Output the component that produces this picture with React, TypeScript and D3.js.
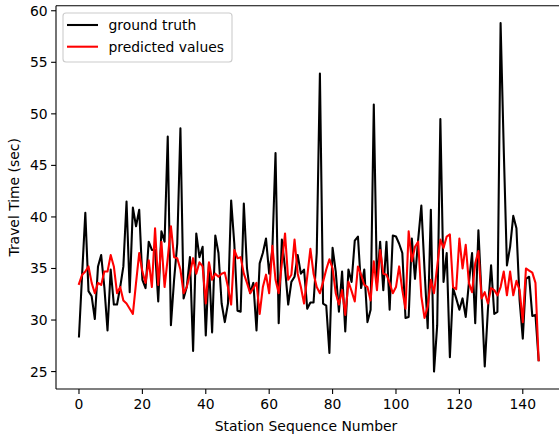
import React, { useEffect, useRef } from "react";
import * as d3 from "d3";

// Observed travel time per station
const groundTruth: number[] = [
  28.4, 34.5, 40.4, 32.8, 32.3, 30.1, 35.2, 36.3, 33.2, 29.0,
  34.9, 31.5, 31.5, 33.2, 35.2, 41.5, 32.7, 40.9, 39.1, 40.7,
  33.9, 33.1, 37.6, 36.8, 36.8, 31.8, 38.6, 37.6, 47.8, 29.5,
  33.9, 37.4, 48.6, 32.1, 33.2, 36.1, 27.0, 38.4, 36.1, 37.1,
  28.5, 35.5, 28.8, 38.2, 36.5, 31.6, 29.8, 31.6, 41.6, 37.4,
  30.9, 30.8, 41.3, 35.0, 32.6, 33.6, 29.0, 35.5, 36.5, 37.9,
  34.5, 36.8, 46.2, 29.7, 37.8, 35.0, 31.5, 33.7, 34.2, 36.3,
  34.5, 34.9, 31.1, 31.7, 31.7, 36.5, 53.9, 31.6, 31.4, 26.8,
  37.0, 34.7, 30.8, 34.7, 28.9, 34.9, 33.7, 37.7, 38.1, 33.1,
  34.9, 29.8, 31.0, 50.9, 33.5, 37.6, 32.9, 37.6, 31.0, 38.2,
  38.1, 37.4, 36.5, 30.2, 30.3, 37.9, 34.0, 37.8, 41.1, 34.9,
  29.2, 40.7, 25.0, 29.5, 49.5, 33.7, 36.5, 26.4, 33.1, 32.1,
  31.0, 32.1, 30.3, 33.6, 36.5, 29.7, 38.7, 32.3, 25.5, 31.0,
  35.3, 30.6, 30.8, 58.8, 46.5, 35.3, 37.1, 40.1, 38.9, 31.9,
  28.2, 34.0, 34.2, 30.4, 30.5, 26.1,
];

// Model output per station
const predicted: number[] = [
  33.5, 34.4, 34.7, 35.2, 33.6, 32.6, 33.6, 33.4, 34.7, 34.7,
  36.3, 35.2, 32.6, 33.2, 31.9, 31.6, 31.1, 30.6, 33.6, 36.5,
  34.7, 33.6, 35.8, 33.2, 38.9, 33.4, 37.6, 33.2, 36.0, 39.1,
  36.1, 36.0, 34.9, 32.6, 33.2, 34.5, 36.0, 34.5, 35.6, 35.2,
  31.6, 35.6, 33.9, 34.5, 34.2, 34.5, 34.6, 33.2, 31.5, 36.8,
  36.0, 36.1, 34.5, 33.6, 32.6, 33.1, 33.6, 30.6, 33.2, 34.4,
  32.6, 37.2, 33.9, 32.6, 35.5, 38.4, 33.9, 34.4, 37.8, 34.5,
  33.2, 31.6, 34.2, 36.9, 34.5, 33.2, 32.6, 33.7, 34.9, 35.9,
  35.0, 32.6, 31.5, 32.9, 30.5, 33.7, 32.8, 31.8, 35.2, 34.4,
  33.4, 33.2, 31.9, 35.7, 32.9, 36.8, 34.5, 34.4, 33.6, 32.6,
  33.2, 35.2, 32.9, 31.1, 38.6, 35.7, 37.1, 37.6, 32.3, 30.2,
  31.3, 33.9, 32.6, 35.2, 37.8, 37.0, 38.1, 38.3, 33.2, 33.0,
  37.9, 35.0, 37.3, 33.6, 32.7, 35.5, 36.7, 32.1, 32.7, 31.6,
  33.1, 32.9, 32.4, 33.2, 34.7, 32.4, 34.7, 32.4, 33.8, 32.9,
  29.8, 35.0, 34.8, 34.6, 33.6, 26.1,
];

const xTicks: number[] = [0, 20, 40, 60, 80, 100, 120, 140];
const yTicks: number[] = [25, 30, 35, 40, 45, 50, 55, 60];

const seriesLabels: string[] = ["ground truth", "predicted values"];
const seriesColors: string[] = ["#000000", "#ff0000"];

const W = 559;
const H = 440;
const FONT = "'DejaVu Sans', sans-serif";

export default function App() {
  const ref = useRef<SVGSVGElement | null>(null);

  useEffect(() => {
    const svg = d3.select(ref.current);
    svg.selectAll("*").remove();

    const left = 56;
    const top = 5.7;
    const bottom = 389;
    const n = groundTruth.length;

    // matplotlib-style 5% padding around the data
    const xPad = (n - 1) * 0.05;
    const x = d3.scaleLinear().domain([-xPad, n - 1 + xPad]).range([left, left + (n - 1 + 2 * xPad) * 3.17]);
    const all = groundTruth.concat(predicted);
    const [lo, hi] = d3.extent(all) as [number, number];
    const yPad = (hi - lo) * 0.05;
    const y = d3.scaleLinear().domain([lo - yPad, hi + yPad]).range([bottom, top]);
    const right = x.range()[1];

    const g = svg.append("g");

    const line = d3
      .line<number>()
      .x((_, i) => x(i))
      .y((d) => y(d));

    [groundTruth, predicted].forEach((s, k) => {
      g.append("path")
        .datum(s)
        .attr("d", line)
        .attr("fill", "none")
        .attr("stroke", seriesColors[k])
        .attr("stroke-width", 2.08)
        .attr("stroke-linejoin", "round")
        .attr("stroke-linecap", "square");
    });

    // spines (the right one falls past the canvas edge)
    const frame = g.append("g");
    [
      [left, top, left, bottom],
      [left, bottom, right + 5, bottom],
      [left, top, right + 5, top],
    ].forEach(([x1, y1, x2, y2]) => {
      frame.append("line").attr("x1", x1).attr("y1", y1).attr("x2", x2).attr("y2", y2)
        .attr("stroke", "#000").attr("stroke-width", 1.1);
    });

    // x axis ticks
    xTicks.forEach((t) => {
      const px = x(t);
      g.append("line").attr("x1", px).attr("x2", px).attr("y1", bottom).attr("y2", bottom + 4.9)
        .attr("stroke", "#000").attr("stroke-width", 1.1);
      g.append("text").attr("x", px).attr("y", bottom + 19.5).attr("text-anchor", "middle")
        .attr("font-family", FONT).attr("font-size", 13.9).attr("fill", "#000").text(String(t));
    });

    // y axis ticks
    yTicks.forEach((t) => {
      const py = y(t);
      g.append("line").attr("x1", left - 4.9).attr("x2", left).attr("y1", py).attr("y2", py)
        .attr("stroke", "#000").attr("stroke-width", 1.1);
      g.append("text").attr("x", left - 8.4).attr("y", py + 5).attr("text-anchor", "end")
        .attr("font-family", FONT).attr("font-size", 13.9).attr("fill", "#000").text(String(t));
    });

    g.append("text").attr("x", 306).attr("y", 431).attr("text-anchor", "middle")
      .attr("font-family", FONT).attr("font-size", 13.9).attr("fill", "#000").text("Station Sequence Number");

    g.append("text").attr("transform", `translate(19,${(top + bottom) / 2}) rotate(-90)`)
      .attr("text-anchor", "middle").attr("font-family", FONT).attr("font-size", 13.9).attr("fill", "#000")
      .text("Travel Time (sec)");

    // legend
    const lg = g.append("g");
    lg.append("rect").attr("x", 63).attr("y", 13).attr("width", 169).attr("height", 49).attr("rx", 3)
      .attr("fill", "#fff").attr("fill-opacity", 0.8).attr("stroke", "#cccccc").attr("stroke-width", 1.1);
    seriesLabels.forEach((lab, k) => {
      const ly = 25 + k * 21.7;
      lg.append("line").attr("x1", 67).attr("x2", 98).attr("y1", ly).attr("y2", ly)
        .attr("stroke", seriesColors[k]).attr("stroke-width", 2.08);
      lg.append("text").attr("x", 108.5).attr("y", ly + 5).attr("font-family", FONT).attr("font-size", 13.9)
        .attr("fill", "#000").text(lab);
    });
  }, []);

  return (
    <svg
      ref={ref}
      width={W}
      height={H}
      style={{ position: "absolute", left: 0, top: 0, background: "#fff" }}
    />
  );
}
